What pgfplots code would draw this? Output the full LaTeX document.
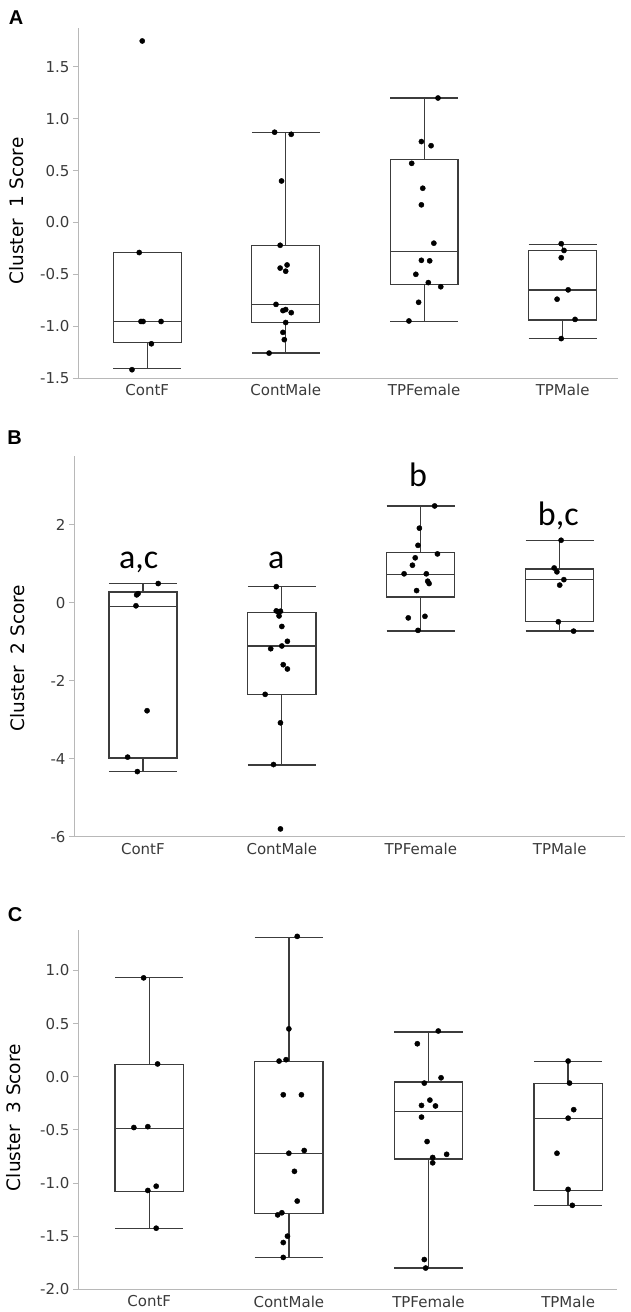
\documentclass[border=0pt]{standalone}
\usepackage{pgfplots}
\pgfplotsset{compat=1.18}
\usepgfplotslibrary{statistics}
\usepackage{fontspec}
\setmainfont{DejaVu Sans}
\newfontfamily\carl{Carlito}
\newfontfamily\arialb{Liberation Sans}

\definecolor{axgray}{HTML}{B8B8B8}
\definecolor{boxgray}{HTML}{3C3C3C}
\definecolor{txtgray}{HTML}{3A3A3A}

\pgfplotsset{
 panel/.style={
  scale only axis,
  axis x line*=bottom, axis y line*=left,
  axis line style={axgray, line width=0.9pt, -},
  xtick={0,1,2,3}, xticklabels={ContF,ContMale,TPFemale,TPMale},
  x tick style={draw=none},
  y tick style={axgray, line width=0.9pt},
  tick align=outside, major tick length=5pt,
  ticklabel style={font=\fontsize{15}{18}\selectfont, text=txtgray},
  xticklabel style={yshift=2pt},
  ylabel style={font=\fontsize{18.5}{22}\selectfont, anchor=center},
  clip=false,
 },
 bx/.style={boxplot prepared={draw direction=y, #1, box extend=0.49, whisker extend=0.49}, draw=boxgray, line width=1.3pt, solid, mark=none},
 pts/.style={only marks, mark=*, mark size=2.6pt, black},
}

\begin{document}
\begin{tikzpicture}
\path[use as bounding box] (0,0) rectangle (630pt,-1312pt);

% ---------------- Panel A ----------------
\begin{axis}[panel, at={(78pt,-378pt)}, anchor=south west, width=540pt, height=350pt,
  xmin=-0.5, xmax=3.40, ymin=-1.5, ymax=1.875,
  ytick={-1.5,-1,-0.5,0,0.5,1,1.5}, yticklabels={-1.5,-1.0,-0.5,0.0,0.5,1.0,1.5},
  ylabel={Cluster~~1 Score}, ylabel style={at={(axis description cs:-0.113,0.477)}}]
\addplot[bx={draw position=0, lower whisker=-1.41, lower quartile=-1.16, median=-0.955, upper quartile=-0.29, upper whisker=-0.29}] coordinates {};
\addplot[bx={draw position=1, lower whisker=-1.26, lower quartile=-0.965, median=-0.79, upper quartile=-0.22, upper whisker=0.87}] coordinates {};
\addplot[bx={draw position=2, lower whisker=-0.955, lower quartile=-0.60, median=-0.28, upper quartile=0.61, upper whisker=1.20}] coordinates {};
\addplot[bx={draw position=3, lower whisker=-1.12, lower quartile=-0.94, median=-0.65, upper quartile=-0.27, upper whisker=-0.21}] coordinates {};
\addplot[pts] coordinates {(-0.036,1.75) (-0.058,-0.29) (-0.045,-0.955) (-0.03,-0.955) (0.10,-0.955) (0.03,-1.17) (-0.11,-1.42)};
\addplot[pts] coordinates {(0.92,0.87)(1.04,0.85)(0.97,0.40)(0.96,-0.22)(0.96,-0.44)(1.01,-0.41)(1.0,-0.47)(0.93,-0.79)(1.0,-0.84)(0.98,-0.85)(1.04,-0.87)(1.0,-0.965)(0.98,-1.06)(0.99,-1.13)(0.88,-1.26)};
\addplot[pts] coordinates {(2.10,1.20)(1.98,0.78)(2.05,0.74)(1.91,0.57)(1.99,0.33)(1.98,0.17)(2.07,-0.20)(1.98,-0.365)(2.04,-0.37)(1.94,-0.50)(2.03,-0.58)(2.12,-0.62)(1.96,-0.77)(1.89,-0.95)};
\addplot[pts] coordinates {(2.99,-0.205)(3.01,-0.27)(2.99,-0.34)(3.04,-0.65)(2.96,-0.74)(3.09,-0.935)(2.99,-1.12)};
\end{axis}

% ---------------- Panel B ----------------
\begin{axis}[panel, at={(74pt,-836.7pt)}, anchor=south west, width=551pt, height=380.7pt,
  xmin=-0.496, xmax=3.47, ymin=-6, ymax=3.76,
  ytick={-6,-4,-2,0,2}, yticklabels={-6,-4,-2,0,2},
  ylabel={Cluster~~2 Score}, ylabel style={at={(axis description cs:-0.103,0.469)}}]
\addplot[bx={draw position=0, lower whisker=-4.33, lower quartile=-3.98, median=-0.09, upper quartile=0.27, upper whisker=0.49}] coordinates {};
\addplot[bx={draw position=1, lower whisker=-4.16, lower quartile=-2.35, median=-1.11, upper quartile=-0.26, upper whisker=0.41}] coordinates {};
\addplot[bx={draw position=2, lower whisker=-0.73, lower quartile=0.146, median=0.72, upper quartile=1.28, upper whisker=2.48}] coordinates {};
\addplot[bx={draw position=3, lower whisker=-0.73, lower quartile=-0.49, median=0.59, upper quartile=0.86, upper whisker=1.60}] coordinates {};
\addplot[pts] coordinates {(0.11,0.49)(-0.035,0.23)(-0.045,0.20)(-0.05,-0.08)(0.03,-2.77)(-0.11,-3.96)(-0.04,-4.33)};
\addplot[pts] coordinates {(0.96,0.41)(0.96,-0.21)(0.99,-0.22)(0.975,-0.24)(0.98,-0.34)(1.0,-0.61)(1.04,-0.99)(1.0,-1.11)(0.92,-1.18)(1.01,-1.59)(1.04,-1.70)(0.88,-2.35)(0.99,-3.08)(0.94,-4.15)(0.99,-5.80)};
\addplot[pts] coordinates {(2.10,2.48)(1.99,1.91)(1.98,1.47)(2.12,1.25)(1.96,1.15)(1.94,0.96)(1.88,0.74)(2.04,0.74)(2.05,0.55)(2.06,0.49)(1.97,0.31)(2.03,-0.35)(1.91,-0.39)(1.98,-0.71)};
\addplot[pts] coordinates {(3.01,1.60)(2.96,0.89)(2.98,0.79)(3.03,0.59)(3.0,0.45)(2.99,-0.49)(3.10,-0.73)};
\node[anchor=base, font=\carl\fontsize{34}{40}\selectfont] at (axis cs:-0.03,0.88) {a,c};
\node[anchor=base, font=\carl\fontsize{34}{40}\selectfont] at (axis cs:0.96,0.88) {a};
\node[anchor=base, font=\carl\fontsize{34}{40}\selectfont] at (axis cs:1.98,2.97) {b};
\node[anchor=base, font=\carl\fontsize{34}{40}\selectfont] at (axis cs:2.99,1.99) {b,c};
\end{axis}

% ---------------- Panel C ----------------
\begin{axis}[panel, at={(78pt,-1289.3pt)}, anchor=south west, width=539pt, height=359.3pt,
  xmin=-0.51, xmax=3.35, ymin=-2, ymax=1.38,
  ytick={-2,-1.5,-1,-0.5,0,0.5,1}, yticklabels={-2.0,-1.5,-1.0,-0.5,0.0,0.5,1.0},
  ylabel={Cluster~~3 Score}, ylabel style={at={(axis description cs:-0.119,0.478)}}]
\addplot[bx={draw position=0, lower whisker=-1.425, lower quartile=-1.078, median=-0.484, upper quartile=0.116, upper whisker=0.93}] coordinates {};
\addplot[bx={draw position=1, lower whisker=-1.70, lower quartile=-1.29, median=-0.725, upper quartile=0.14, upper whisker=1.31}] coordinates {};
\addplot[bx={draw position=2, lower whisker=-1.80, lower quartile=-0.775, median=-0.33, upper quartile=-0.05, upper whisker=0.42}] coordinates {};
\addplot[bx={draw position=3, lower whisker=-1.21, lower quartile=-1.07, median=-0.39, upper quartile=-0.066, upper whisker=0.144}] coordinates {};
\addplot[pts] coordinates {(-0.04,0.93)(0.06,0.12)(-0.11,-0.478)(-0.01,-0.47)(-0.01,-1.07)(0.05,-1.03)(0.05,-1.425)};
\addplot[pts] coordinates {(1.06,1.32)(1.0,0.45)(0.93,0.147)(0.98,0.16)(0.96,-0.17)(1.09,-0.17)(1.0,-0.72)(1.11,-0.694)(1.04,-0.89)(1.06,-1.17)(0.92,-1.30)(0.95,-1.28)(0.99,-1.50)(0.96,-1.56)(0.96,-1.70)};
\addplot[pts] coordinates {(2.07,0.43)(1.92,0.31)(2.09,-0.01)(1.97,-0.06)(2.01,-0.22)(1.95,-0.27)(2.05,-0.275)(1.95,-0.38)(1.99,-0.61)(2.13,-0.73)(2.03,-0.76)(2.03,-0.81)(1.97,-1.72)(1.98,-1.80)};
\addplot[pts] coordinates {(3.0,0.147)(3.01,-0.06)(3.04,-0.31)(3.0,-0.39)(2.92,-0.72)(3.0,-1.06)(3.03,-1.21)};
\end{axis}

\node[font=\arialb\bfseries\fontsize{20}{24}\selectfont] at (16pt,-17.5pt) {A};
\node[font=\arialb\bfseries\fontsize{20}{24}\selectfont] at (14.5pt,-438pt) {B};
\node[font=\arialb\bfseries\fontsize{20}{24}\selectfont] at (15pt,-915pt) {C};
\end{tikzpicture}
\end{document}
